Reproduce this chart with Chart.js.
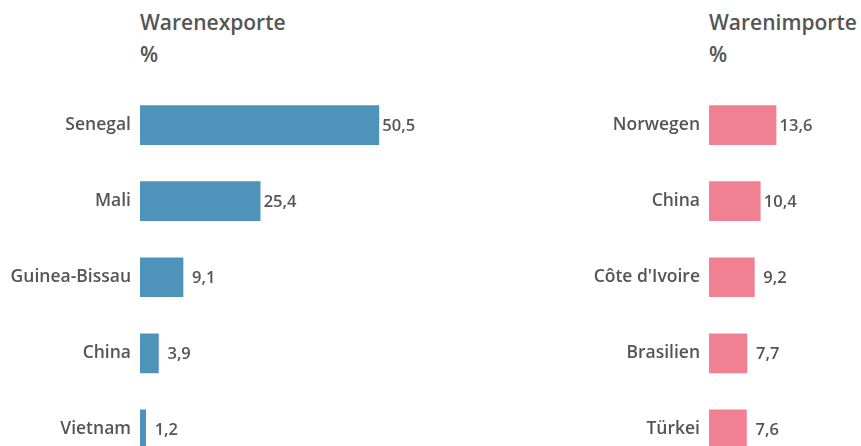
<!DOCTYPE html>
<html>
<head>
<meta charset="utf-8">
<script src="https://cdn.jsdelivr.net/npm/chart.js@4/dist/chart.umd.min.js"></script>
<style>
  html, body { margin: 0; padding: 0; background: #fff; }
  body { width: 861px; height: 446px; overflow: hidden; position: relative; font-family: "Open Sans", sans-serif; }
  canvas { position: absolute; top: 0; }
  .title { position: absolute; color: #555; font-weight: 600; font-size: 21px; line-height: 32px; white-space: nowrap; }
</style>
</head>
<body>
<div class="title" style="left:140px; top:6px;">Warenexporte<br>%</div>
<div class="title" style="left:709px; top:6px;">Warenimporte<br>%</div>
<canvas id="exportChart" width="440" height="487" style="left:0; width:440px; height:487px;"></canvas>
<canvas id="importChart" width="291" height="487" style="left:570px; width:291px; height:487px;"></canvas>
<script>
// Werte
const exportCountries = ['Senegal', 'Mali', 'Guinea-Bissau', 'China', 'Vietnam'];
const exportValues = [50.5, 25.4, 9.1, 3.9, 1.2];
const importCountries = ['Norwegen', 'China', "Côte d'Ivoire", 'Brasilien', 'Türkei'];
const importValues = [13.6, 10.4, 9.2, 7.7, 7.6];

const textColor = '#555555';
const fontFamily = '"Open Sans", sans-serif';

// Zahlen mit Komma am Balkenende
const valueLabels = {
    id: 'valueLabels',
    afterDatasetsDraw(chart) {
        const ctx = chart.ctx;
        const meta = chart.getDatasetMeta(0);
        ctx.save();
        ctx.fillStyle = textColor;
        ctx.font = '600 16.5px ' + fontFamily;
        ctx.textBaseline = 'middle';
        ctx.textAlign = 'left';
        meta.data.forEach(function(bar, i) {
            const value = chart.data.datasets[0].data[i];
            const w = bar.x - bar.base;
            const gap = w >= 48 ? 3.5 : 9;
            ctx.fillText(value.toFixed(1).replace('.', ','), bar.x + gap, bar.y + 1);
        });
        ctx.restore();
    }
};

function makeChart(id, labels, values, color, axisWidth, max) {
    const ctx = document.getElementById(id).getContext('2d');
    return new Chart(ctx, {
        type: 'bar',
        data: {
            labels: labels,
            datasets: [{
                data: values,
                backgroundColor: color,
                barThickness: 39
            }]
        },
        options: {
            indexAxis: 'y',
            responsive: false,
            maintainAspectRatio: false,
            animation: false,
            devicePixelRatio: 1,
            layout: { padding: { top: 87, bottom: 3, right: 0, left: 0 } },
            plugins: {
                legend: { display: false },
                tooltip: { enabled: false }
            },
            scales: {
                x: { display: false, min: 0, max: max },
                y: {
                    grid: { display: false, drawTicks: false },
                    border: { display: false },
                    ticks: {
                        color: textColor,
                        padding: 9,
                        font: { family: fontFamily, size: 17.5, weight: '600' }
                    },
                    afterFit(scale) { scale.width = axisWidth; }
                }
            }
        },
        plugins: [valueLabels]
    });
}

makeChart('exportChart', exportCountries, exportValues, '#4e93b9', 140, 300 / 4.73);
makeChart('importChart', importCountries, importValues, '#f18192', 139, 152 / 4.93);
</script>
</body>
</html>
